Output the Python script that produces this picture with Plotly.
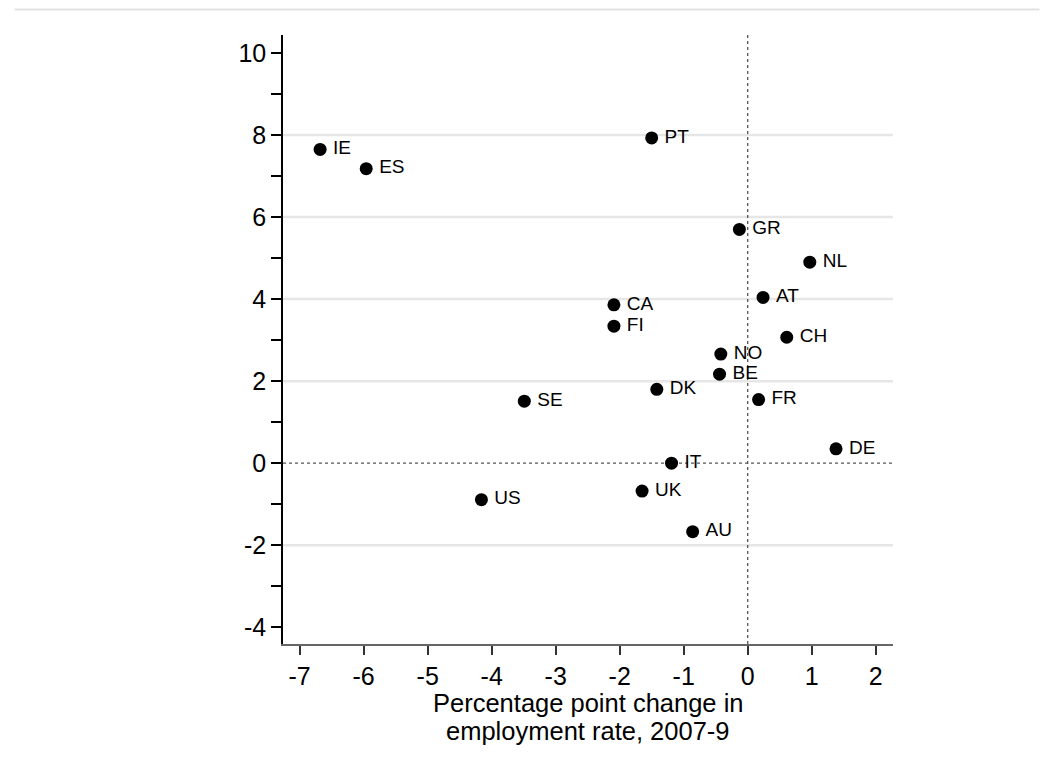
import plotly.graph_objects as go

# country codes and values
countries = ["IE", "ES", "PT", "GR", "NL", "AT", "CA", "FI", "CH", "NO",
             "BE", "DK", "SE", "FR", "DE", "IT", "UK", "US", "AU"]
emp_change = [-6.68, -5.96, -1.50, -0.13, 0.97, 0.24, -2.09, -2.09, 0.61, -0.42,
              -0.44, -1.42, -3.49, 0.17, 1.38, -1.19, -1.65, -4.16, -0.86]
y_values = [7.65, 7.18, 7.93, 5.70, 4.90, 4.04, 3.86, 3.34, 3.07, 2.66,
            2.17, 1.80, 1.51, 1.55, 0.35, 0.00, -0.68, -0.89, -1.67]

x_ticks = [-7, -6, -5, -4, -3, -2, -1, 0, 1, 2]
y_ticks = [-4, -2, 0, 2, 4, 6, 8, 10]
grid_vals = [-2, 2, 4, 6, 8]

FONT = "Liberation Sans, Arial, sans-serif"

fig = go.Figure()
fig.add_trace(go.Scatter(
    x=emp_change, y=y_values, text=countries,
    mode="markers+text", textposition="middle right",
    texttemplate="\u2009%{text}",
    marker=dict(color="black", size=13),
    textfont=dict(family=FONT, size=19, color="black"),
    cliponaxis=False, showlegend=False, hoverinfo="x+y+text",
))

shapes = []
# light grey gridlines (none at 0, 10 or -4)
for g in grid_vals:
    shapes.append(dict(type="line", xref="paper", x0=0, x1=1, yref="y", y0=g, y1=g,
                       line=dict(color="#e6e6e6", width=2.5), layer="below"))
# dotted reference lines at zero
shapes.append(dict(type="line", xref="paper", x0=0, x1=1, yref="y", y0=0, y1=0,
                   line=dict(color="#555555", width=1.3, dash="dot"), layer="below"))
shapes.append(dict(type="line", xref="x", x0=0, x1=0, yref="paper", y0=0, y1=1,
                   line=dict(color="#555555", width=1.3, dash="dot"), layer="below"))
# faint border line at the very top of the graph region
shapes.append(dict(type="line", xref="paper", yref="paper", x0=-0.44, x1=1.24,
                   y0=1.042, y1=1.042, line=dict(color="#e2e2e2", width=2)))

# the page body adds 8px around the figure, so the figure is 16px smaller
fig.update_layout(
    width=1034, height=755,
    margin=dict(l=275, r=149, t=27, b=119),
    paper_bgcolor="white", plot_bgcolor="white",
    font=dict(family=FONT, color="black"),
    shapes=shapes,
    xaxis=dict(range=[-7.26, 2.27], tickvals=x_ticks,
               ticktext=[str(v) for v in x_ticks], ticks="outside", ticklen=9,
               tickwidth=1.5, tickcolor="#333333", showgrid=False, zeroline=False,
               showline=True, linecolor="#666666", linewidth=2,
               tickfont=dict(size=25, family=FONT)),
    yaxis=dict(range=[-4.41, 10.44], tickvals=y_ticks,
               ticktext=[str(v) for v in y_ticks], ticks="outside", ticklen=10,
               tickwidth=1.5, tickcolor="black", showgrid=False, zeroline=False,
               showline=True, linecolor="black", linewidth=1.5,
               tickfont=dict(size=25, family=FONT),
               minor=dict(dtick=1, tick0=0, ticks="outside", ticklen=10,
                          tickwidth=1.5, tickcolor="black", showgrid=False)),
    annotations=[
        dict(text="Percentage point change in", xref="paper", yref="paper",
             x=0.5, y=0, yanchor="middle", yshift=-59, showarrow=False,
             font=dict(size=25.5, family=FONT)),
        dict(text="employment rate, 2007-9", xref="paper", yref="paper",
             x=0.5, y=0, yanchor="middle", yshift=-87, showarrow=False,
             font=dict(size=25.5, family=FONT)),
    ],
)

fig.write_html("out.html")
